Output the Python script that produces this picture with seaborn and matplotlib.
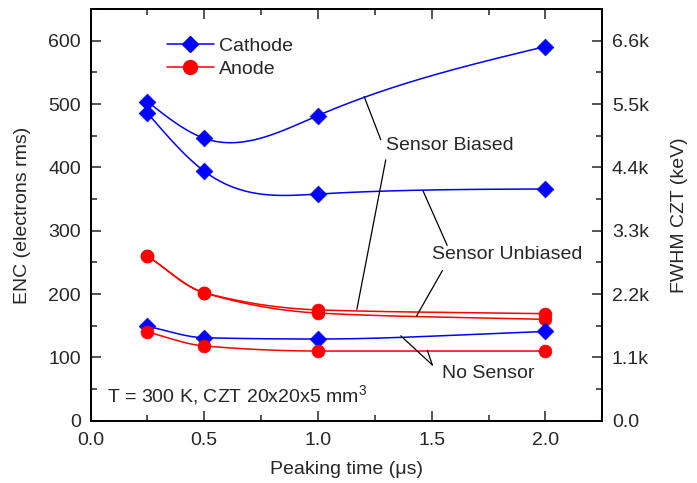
import matplotlib
matplotlib.use("Agg")
import matplotlib.pyplot as plt
import numpy as np
import seaborn as sns
from matplotlib.lines import Line2D
from matplotlib.ticker import FuncFormatter, MultipleLocator

# peaking times (us)
peaking = [0.25, 0.5, 1.0, 2.0]

# ENC values (electrons rms)
cathode_biased = [504, 446, 482, 591]
cathode_unbiased = [486, 394, 358, 366]
cathode_nosensor = [149, 131, 129, 141]
anode_biased = [260, 202, 175, 169]
anode_unbiased = [260, 202, 170, 160]
anode_nosensor = [140, 118, 110, 110]

BLUE = "#0000FF"
RED = "#FF0000"

sns.set_theme(style="ticks")
plt.rcParams["font.family"] = ["Liberation Sans", "DejaVu Sans"]
plt.rcParams["mathtext.fontset"] = "custom"
plt.rcParams["mathtext.rm"] = "Liberation Sans"
plt.rcParams["xtick.direction"] = "in"
plt.rcParams["ytick.direction"] = "in"


def natural_spline(x, y, n=200):
    # natural cubic spline, only used to draw the smooth connecting curve
    x = np.asarray(x, float)
    y = np.asarray(y, float)
    k = len(x)
    h = np.diff(x)
    A = np.zeros((k, k))
    b = np.zeros(k)
    A[0, 0] = A[-1, -1] = 1
    for i in range(1, k - 1):
        A[i, i - 1] = h[i - 1]
        A[i, i] = 2 * (h[i - 1] + h[i])
        A[i, i + 1] = h[i]
        b[i] = 6 * ((y[i + 1] - y[i]) / h[i] - (y[i] - y[i - 1]) / h[i - 1])
    m = np.linalg.solve(A, b)
    xs = np.linspace(x[0], x[-1], n)
    idx = np.clip(np.searchsorted(x, xs) - 1, 0, k - 2)
    x0, x1 = x[idx], x[idx + 1]
    hh = x1 - x0
    t0, t1 = x1 - xs, xs - x0
    ys = (m[idx] * t0 ** 3 + m[idx + 1] * t1 ** 3) / (6 * hh) \
        + (y[idx] / hh - m[idx] * hh / 6) * t0 \
        + (y[idx + 1] / hh - m[idx + 1] * hh / 6) * t1
    return xs, ys


def pchip(x, y, n=200):
    # monotone (Fritsch-Carlson) cubic, no overshoot between points
    x = np.asarray(x, float)
    y = np.asarray(y, float)
    h = np.diff(x)
    d = np.diff(y) / h
    k = len(x)
    m = np.zeros(k)
    for i in range(1, k - 1):
        if d[i - 1] * d[i] > 0:
            w1 = 2 * h[i] + h[i - 1]
            w2 = h[i] + 2 * h[i - 1]
            m[i] = (w1 + w2) / (w1 / d[i - 1] + w2 / d[i])
    m[0] = d[0]
    m[-1] = d[-1]
    xs = np.linspace(x[0], x[-1], n)
    idx = np.clip(np.searchsorted(x, xs) - 1, 0, k - 2)
    hh = h[idx]
    t = (xs - x[idx]) / hh
    h00 = 2 * t ** 3 - 3 * t ** 2 + 1
    h10 = t ** 3 - 2 * t ** 2 + t
    h01 = -2 * t ** 3 + 3 * t ** 2
    h11 = t ** 3 - t ** 2
    ys = h00 * y[idx] + h10 * hh * m[idx] + h01 * y[idx + 1] + h11 * hh * m[idx + 1]
    return xs, ys


fig, ax = plt.subplots(figsize=(6.97, 4.83), dpi=100)
fig.subplots_adjust(left=0.130, right=0.864, bottom=0.129, top=0.981)

series = [
    (cathode_biased, BLUE, "D", natural_spline),
    (cathode_unbiased, BLUE, "D", natural_spline),
    (anode_biased, RED, "o", pchip),
    (anode_unbiased, RED, "o", pchip),
    (cathode_nosensor, BLUE, "D", pchip),
    (anode_nosensor, RED, "o", pchip),
]
for vals, col, mk, fn in series:
    xs, ys = fn(peaking, vals)
    sns.lineplot(x=xs, y=ys, ax=ax, color=col, lw=1.1, sort=False, estimator=None)
for vals, col, mk, fn in series:
    size = 72 if mk == "D" else 85
    sns.scatterplot(x=peaking, y=vals, ax=ax, color=col, marker=mk, s=size,
                    edgecolor=col, linewidth=0.5, zorder=5)

ax.set_xlim(0, 2.25)
ax.set_ylim(0, 650)
ax.xaxis.set_major_locator(MultipleLocator(0.5))
ax.xaxis.set_minor_locator(MultipleLocator(0.25))
ax.yaxis.set_major_locator(MultipleLocator(100))
ax.yaxis.set_minor_locator(MultipleLocator(50))
ax.xaxis.set_major_formatter(FuncFormatter(lambda v, p: f"{v:.1f}"))
ax.tick_params(which="major", length=7, width=1.1, labelsize=14, top=True)
ax.tick_params(which="minor", length=4, width=1.1, top=True)
ax.tick_params(axis="x", which="major", pad=8)
ax.tick_params(axis="y", which="major", pad=7)
ax.tick_params(axis="y", which="both", right=False)
ax.set_xlabel("Peaking time (μs)", fontsize=14, labelpad=9)
ax.set_ylabel("ENC (electrons rms)", fontsize=14, labelpad=12)

ax2 = ax.twinx()
ax2.set_ylim(0, 650 * 11)
ax2.yaxis.set_major_locator(MultipleLocator(1100))
ax2.yaxis.set_minor_locator(MultipleLocator(550))
ax2.yaxis.set_major_formatter(
    FuncFormatter(lambda v, p: "0.0" if v == 0 else f"{v / 1000:.1f}k"))
ax2.tick_params(which="major", length=7, width=1.1, labelsize=14, direction="in", pad=7)
ax2.tick_params(which="minor", length=4, width=1.1, direction="in")
ax2.set_ylabel("FWHM CZT (keV)", fontsize=14, labelpad=16)
for a in (ax, ax2):
    for s in a.spines.values():
        s.set_linewidth(1.3)
        s.set_color("black")

# annotation leaders
ann = [
    ([1.276, 1.203], [444, 512]),
    ([1.298, 1.171], [412, 176]),
    ([1.568, 1.462], [277, 363]),
    ([1.547, 1.433], [237, 165]),
    ([1.503, 1.364], [88, 134]),
    ([1.503, 1.481], [88, 111]),
]
for xx, yy in ann:
    ax.plot(xx, yy, color="black", lw=0.9)

ax.text(1.30, 435, "Sensor Biased", fontsize=14, va="center")
ax.text(1.50, 262, "Sensor Unbiased", fontsize=14, va="center")
ax.text(1.544, 75, "No Sensor", fontsize=14, va="center")
ax.text(0.074, 40, "T = 300 K, CZT 20x20x5 mm$^3$", fontsize=14, va="center")

handles = [
    Line2D([], [], color=BLUE, marker="D", markersize=8.5, lw=1.1),
    Line2D([], [], color=RED, marker="o", markersize=10, lw=1.1),
]
ax.legend(handles, ["Cathode", "Anode"], loc="upper left",
          bbox_to_anchor=(0.115, 0.975), frameon=False, fontsize=14,
          handlelength=2.4, handletextpad=0.3, labelspacing=0.3)

fig.savefig("out.png", dpi=100)
